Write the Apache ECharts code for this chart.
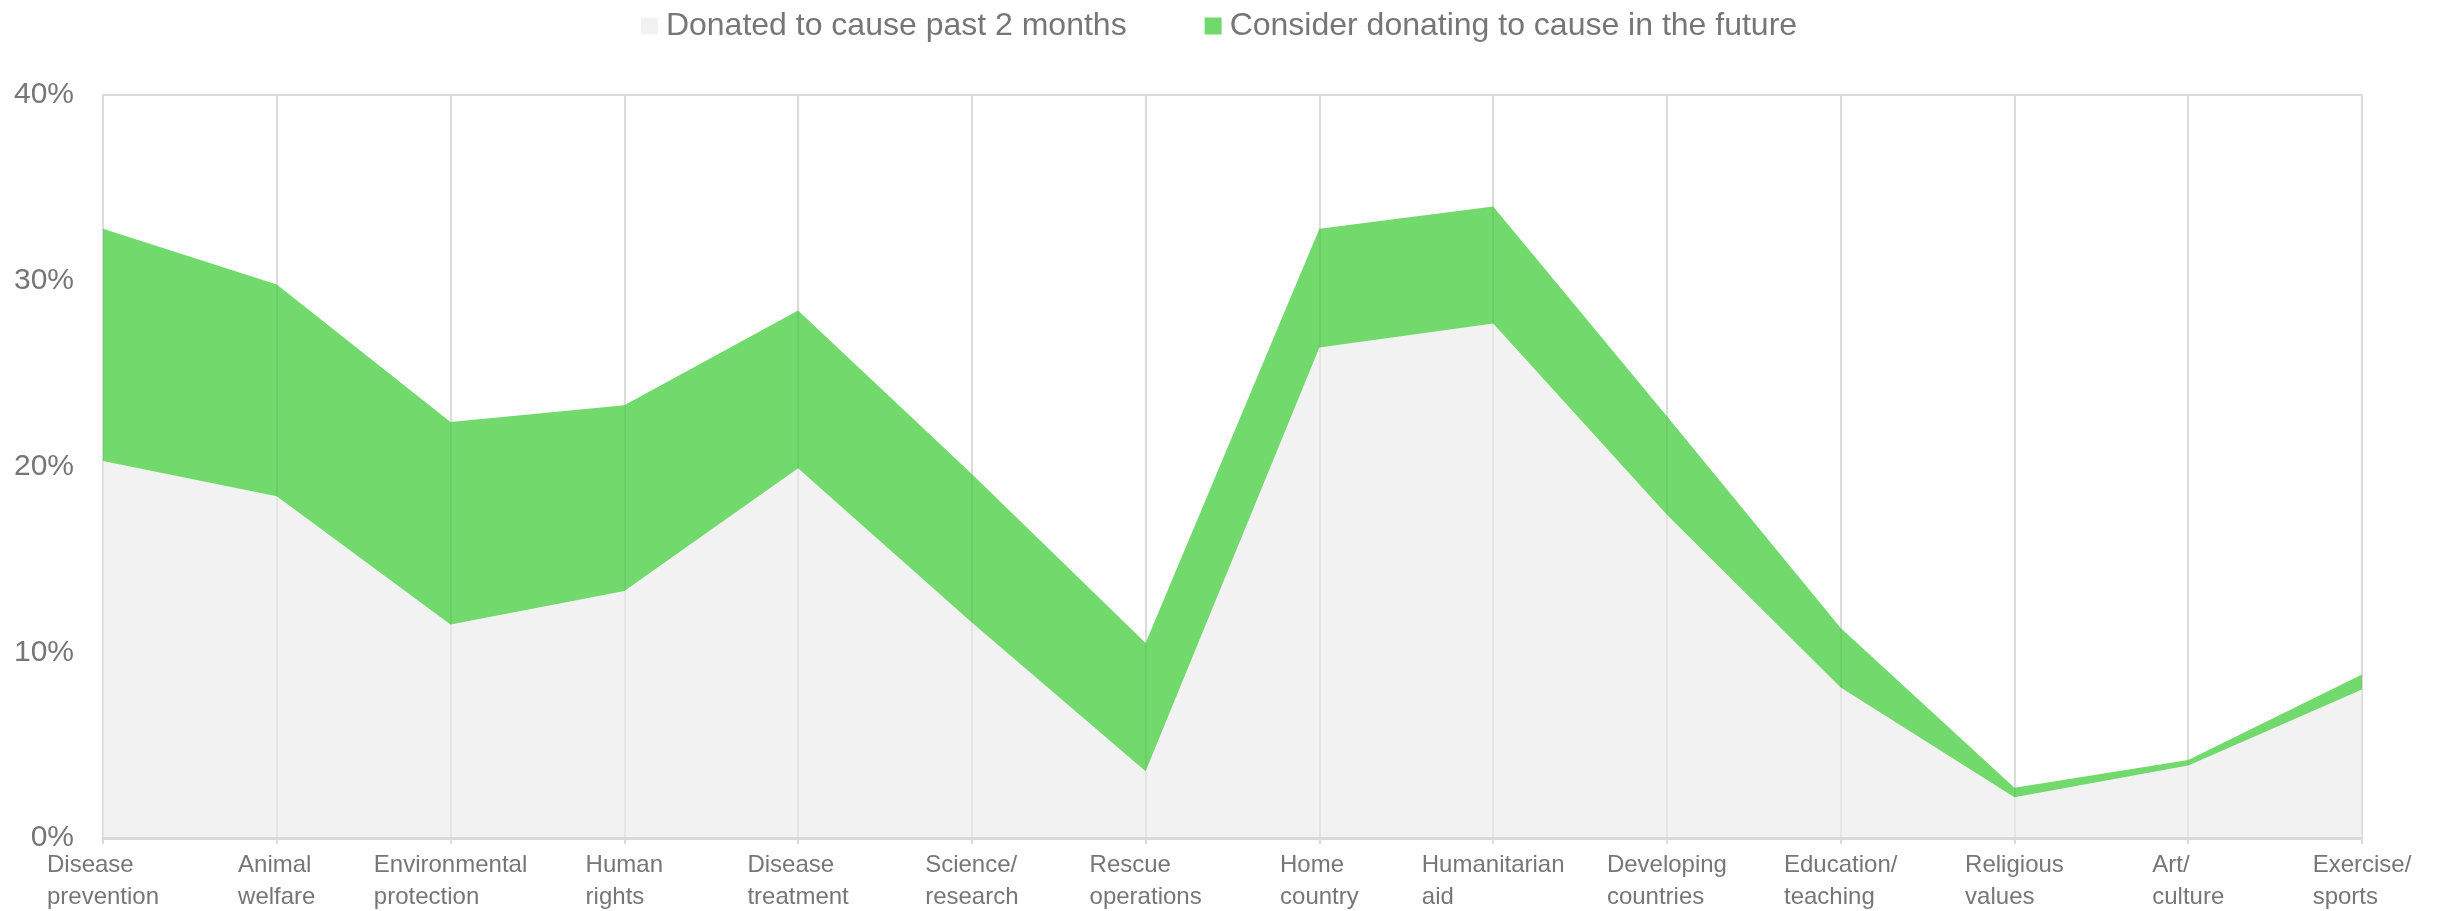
<!DOCTYPE html>
<html>
<head>
<meta charset="utf-8">
<script src="https://cdn.jsdelivr.net/npm/echarts@6/dist/echarts.min.js"></script>
<style>
  html, body { margin: 0; padding: 0; background: #ffffff; }
  #chart { width: 2438px; height: 911px; }
</style>
</head>
<body>
<div id="chart"></div>
<script>
// Cause categories (line breaks as shown under the axis)
const categories = [
  'Disease\nprevention', 'Animal\nwelfare', 'Environmental\nprotection', 'Human\nrights',
  'Disease\ntreatment', 'Science/\nresearch', 'Rescue\noperations', 'Home\ncountry',
  'Humanitarian\naid', 'Developing\ncountries', 'Education/\nteaching', 'Religious\nvalues',
  'Art/\nculture', 'Exercise/\nsports'
];

// Share of respondents (%)
const donatedPast2Months = [20.3, 18.4, 11.5, 13.3, 19.9, 11.6, 3.6, 26.4, 27.7, 17.4, 8.1, 2.2, 3.9, 8.0];
const considerFuture     = [32.8, 29.8, 22.4, 23.3, 28.4, 19.6, 10.5, 32.8, 34.0, 22.7, 11.3, 2.7, 4.2, 8.8];

const yTicks = { min: 0, max: 40, interval: 10 };

const seriesNames = ['Donated to cause past 2 months', 'Consider donating to cause in the future'];

const chart = echarts.init(document.getElementById('chart'), null, { renderer: 'canvas' });

const FONT = '"Liberation Sans", Arial, Helvetica, sans-serif';
const TEXT_COLOR = '#767676';

// Lines of each label are left-aligned inside a block centred on the tick
const labelFormatter = (v) => v.split('\n').map(s => '{l|' + s + '}').join('\n');

chart.setOption({
  animation: false,
  backgroundColor: '#ffffff',
  legend: {
    data: seriesNames,
    top: 4,
    left: 'center',
    icon: 'rect',
    itemWidth: 17,
    itemHeight: 17,
    itemGap: 78,
    textStyle: {
      fontFamily: FONT,
      fontSize: 32,
      color: TEXT_COLOR,
      lineHeight: 34,
      padding: [0, 0, 0, 3]
    }
  },
  grid: {
    left: 103,
    right: 76,
    top: 95,
    bottom: 73,
    containLabel: false,
    outerBoundsMode: 'none',
    show: true,
    borderColor: '#dadada',
    borderWidth: 2,
    backgroundColor: 'transparent'
  },
  xAxis: [
    {
      // labelled axis, drawn above the areas so its line and faint guides stay visible
      type: 'category',
      data: categories,
      boundaryGap: false,
      z: 10,
      axisLine: { show: true, lineStyle: { color: '#dadada', width: 3 } },
      axisTick: { show: true, length: 6, lineStyle: { color: '#dadada', width: 2 } },
      splitLine: { show: true, lineStyle: { color: 'rgba(0,0,0,0.05)', width: 2 } },
      axisLabel: {
        interval: 0,
        margin: 11,
        fontFamily: FONT,
        fontSize: 24,
        color: TEXT_COLOR,
        lineHeight: 32,
        formatter: labelFormatter,
        rich: {
          l: { align: 'left', fontFamily: FONT, fontSize: 24, color: TEXT_COLOR, lineHeight: 32 }
        }
      }
    },
    {
      // vertical guides behind the areas
      type: 'category',
      data: categories,
      boundaryGap: false,
      z: 0,
      axisLine: { show: false },
      axisTick: { show: false },
      axisLabel: { show: false },
      splitLine: { show: true, lineStyle: { color: '#e7e7e7', width: 2 } }
    }
  ],
  yAxis: {
    type: 'value',
    min: yTicks.min,
    max: yTicks.max,
    interval: yTicks.interval,
    axisLine: { show: false },
    axisTick: { show: false },
    splitLine: { show: false },
    axisLabel: {
      margin: 29,
      fontFamily: FONT,
      fontSize: 30,
      color: TEXT_COLOR,
      formatter: '{value}%'
    }
  },
  series: [
    {
      name: seriesNames[1],
      type: 'line',
      data: considerFuture,
      symbol: 'none',
      lineStyle: { width: 0 },
      itemStyle: { color: '#70d96b' },
      areaStyle: { color: '#6dd868', opacity: 0.97 },
      z: 2
    },
    {
      name: seriesNames[0],
      type: 'line',
      data: donatedPast2Months,
      symbol: 'none',
      lineStyle: { width: 0 },
      itemStyle: { color: '#f2f2f2' },
      areaStyle: { color: '#f2f2f2', opacity: 1 },
      z: 3
    }
  ]
});
</script>
</body>
</html>
